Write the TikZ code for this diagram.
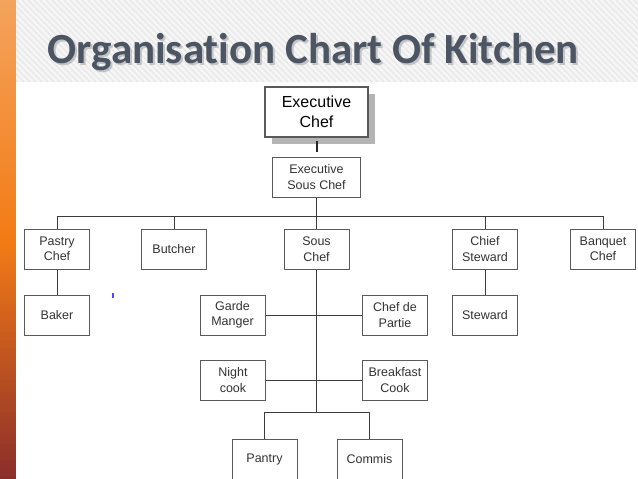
\documentclass[tikz,border=0pt]{standalone}
\usepackage{fontspec}
\newfontfamily\boxfont{Liberation Sans}
\newfontfamily\titlefont[Ligatures=NoCommon]{Carlito}
\usetikzlibrary{positioning,shadows}
\definecolor{slate}{HTML}{4B5563}
\definecolor{barhi}{HTML}{F4A35C}
\definecolor{barmid}{HTML}{F37B16}
\definecolor{barlo}{HTML}{8B2E2A}
\definecolor{wire}{HTML}{3C3C3C}
\definecolor{boxline}{HTML}{5A5A5A}
\definecolor{shade}{HTML}{B4B4B4}
\definecolor{band}{HTML}{F6F6F6}
\definecolor{stripe}{HTML}{E9E9E9}

\begin{document}
\begin{tikzpicture}[
  x=1pt, y=-1pt,
  post/.style={draw=boxline, line width=1pt, fill=white, minimum width=65pt,
               minimum height=40pt, inner sep=0pt, align=center,
               font=\boxfont\fontsize{12.5}{15.5}\selectfont, text=black!80},
  boss/.style={post, line width=1.4pt, minimum width=103pt, minimum height=50pt,
               font=\boxfont\fontsize{16}{20}\selectfont, text=black,
               drop shadow={shadow xshift=7pt, shadow yshift=-7pt, fill=shade, opacity=1}},
  link/.style={draw=wire, line width=1pt},
  heading/.style={anchor=base west, font=\titlefont\bfseries\fontsize{43}{43}\selectfont}
]
  \useasboundingbox (0,0) rectangle (638,479);

  % Slide background
  \fill[white] (0,0) rectangle (638,479);
  \fill[band] (16,0) rectangle (638,82);
  \begin{scope}
    \clip (16,0) rectangle (638,82);
    \foreach \k in {0,6,...,720}
      \draw[stripe, line width=1.5pt] (\k-80,0) -- (\k,82);
  \end{scope}
  % orange bar, built from thin strips
  \foreach \i in {0,...,59} {
    \pgfmathsetmacro\p{100*\i/59}
    \fill[barmid!\p!barhi] (0,\i*4) rectangle (16,\i*4+4.6);
  }
  \foreach \i in {0,...,59} {
    \pgfmathsetmacro\p{100*\i/59}
    \fill[barlo!\p!barmid] (0,240+\i*4) rectangle (16,240+\i*4+4.6);
  }

  % Title
  \node[heading, text=gray!70, opacity=0.6] (titleshadow) at (46,65) {Organisation Chart Of Kitchen};
  \node[heading, text=slate] (title) at (44,63) {Organisation Chart Of Kitchen};

  % Top of the kitchen
  \node[boss] (exec) at (316.5,112) {Executive\\Chef};
  \node[post, minimum width=88pt] (esc) at (316.5,177) {Executive\\Sous Chef};

  % First row
  \node[post] (pastry) at (57,249) {Pastry\\Chef};
  \node[post] (butcher) at (174,249) {Butcher};
  \node[post] (sous) at (316.5,249) {Sous\\Chef};
  \node[post] (chief) at (485,249) {Chief\\Steward};
  \node[post] (banquet) at (603,249) {Banquet\\Chef};

  % Second row
  \node[post] (baker) at (57,315) {Baker};
  \node[post] (garde) at (232.5,315) {Garde\\Manger};
  \node[post] (partie) at (395,315) {Chef de\\Partie};
  \node[post] (steward) at (485,315) {Steward};

  % Third row
  \node[post] (night) at (233,380) {Night\\cook};
  \node[post] (breakfast) at (395,380) {Breakfast\\Cook};

  % Fourth row
  \node[post] (pantry) at (264.5,459) {Pantry};
  \node[post] (commis) at (369.5,459) {Commis};

  % Connections
  \coordinate (bus) at (316.5,216.5);
  \coordinate (split) at (316.5,412.5);
  \draw[line width=2pt, black!85, shorten <=3pt, shorten >=5pt] (exec.south) -- (esc.north);
  \draw[link] (esc.south) -- (sous.north);
  \draw[link] (pastry.north) |- (bus) -| (banquet.north);
  \draw[link] (butcher.north) -- (butcher.north |- bus);
  \draw[link] (chief.north) -- (chief.north |- bus);
  \draw[link] (pastry.south) -- (baker.north);
  \draw[link] (chief.south) -- (steward.north);
  \draw[link] (sous.south) -- (split);
  \draw[link] (garde.east) -- (partie.west);
  \draw[link] (night.east) -- (breakfast.west);
  \draw[link] (pantry.north) |- (split) -| (commis.north);

  % Stray mark
  \draw[blue!70, line width=1.5pt] (113,293) -- (113,298);
\end{tikzpicture}
\end{document}
